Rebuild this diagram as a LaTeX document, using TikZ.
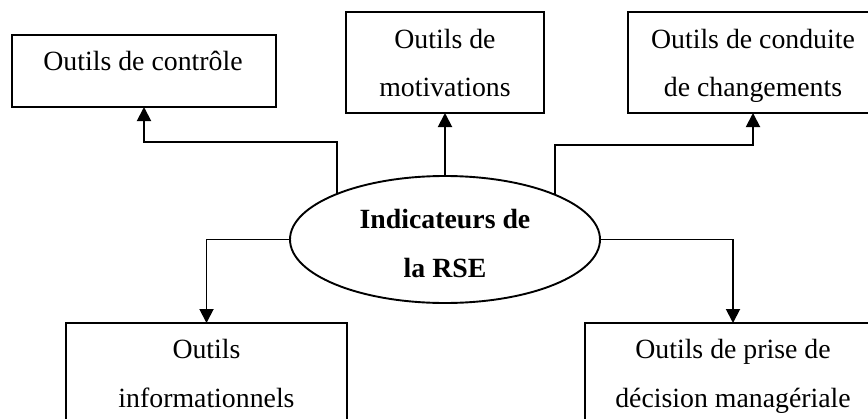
\documentclass[tikz,border=0pt]{standalone}
\usepackage{fontspec}
\setmainfont{Liberation Serif}
\usetikzlibrary{arrows.meta,shapes.geometric}
\begin{document}
\begin{tikzpicture}[x=1pt,y=-1pt,
  box/.style={draw,rectangle,line width=1.9pt,inner sep=0pt,outer sep=0pt},
  oval/.style={draw,ellipse,line width=1.9pt,inner sep=0pt,outer sep=0pt},
  txt/.style={anchor=base,inner sep=0pt,font=\fontsize{27.8}{33}\selectfont},
  btxt/.style={txt,font=\fontsize{27.8}{33}\selectfont\bfseries},
  arr/.style={line width=1.9pt,-{Triangle[width=14pt,length=14pt]}}]
\useasboundingbox (0,0) rectangle (868,418);
\fill[white] (0,0) rectangle (868,418);
\clip (0,0) rectangle (868,418);
% boxes
\node[box,minimum width=264pt,minimum height=72pt] (b1) at (144,71) {};
\node[box,minimum width=198pt,minimum height=101pt] (b2) at (445,62.5) {};
\node[box,minimum width=250pt,minimum height=101pt] (b3) at (753,62.5) {};
\node[box,minimum width=281pt,minimum height=117pt] (b4) at (206.5,381.5) {};
\node[box,minimum width=296pt,minimum height=117pt] (b5) at (733,381.5) {};
\node[oval,minimum width=310pt,minimum height=127pt] (e) at (445,239.5) {};
% texts
\node[txt] (t1) at (143,70) {Outils de contrôle};
\node[txt] (t2a) at (445,48) {Outils de};
\node[txt] (t2b) at (445,96) {motivations};
\node[txt] (t3a) at (753,48) {Outils de conduite};
\node[txt] (t3b) at (753,96) {de changements};
\node[btxt] (te1) at (445,228) {Indicateurs de};
\node[btxt] (te2) at (445,277) {la RSE};
\node[txt] (t4a) at (206.5,358) {Outils};
\node[txt] (t4b) at (206.5,407) {informationnels};
\node[txt] (t5a) at (733,358) {Outils de prise de};
\node[txt] (t5b) at (733,407) {décision managériale};
% connectors
\coordinate (k1) at (b1.south |- 0,142);
\coordinate (k3) at (b3.south |- 0,145);
\draw[arr] (e.157.5) |- (k1) -- (b1.south);
\draw[arr] (e.north) -- (b2.south);
\draw[arr] (e.22.6) |- (k3) -- (b3.south);
\draw[arr] (e.west) -| (b4.north);
\draw[arr] (e.east) -| (b5.north);
\end{tikzpicture}
\end{document}
